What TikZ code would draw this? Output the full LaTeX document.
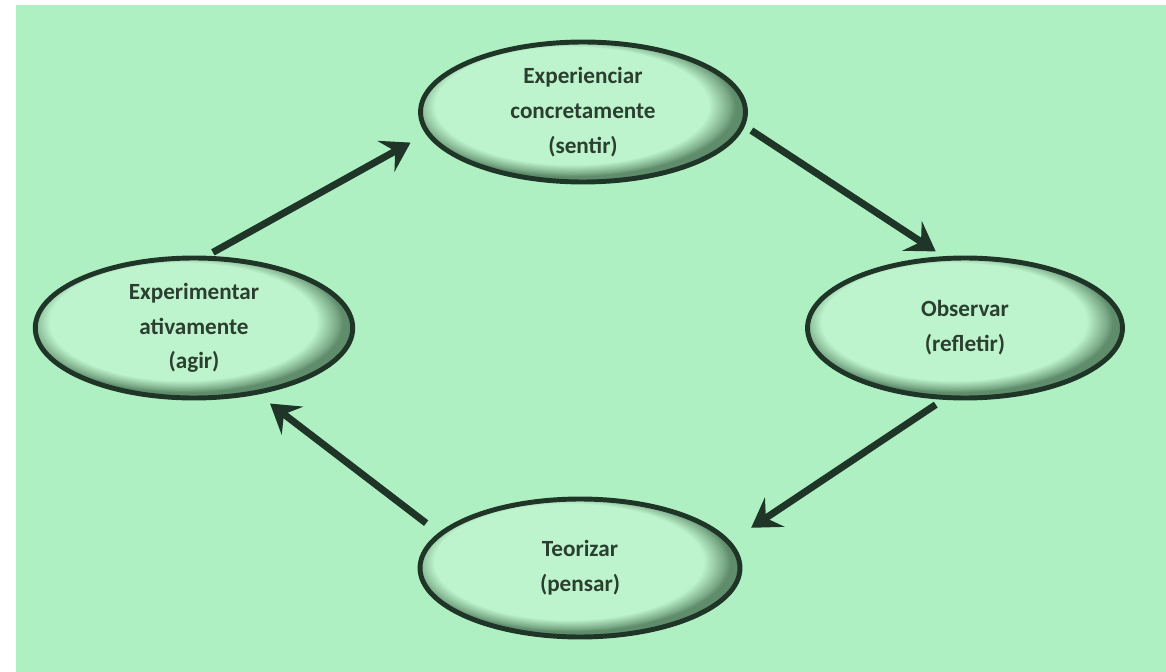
\documentclass[tikz,border=0pt]{standalone}
\usepackage{fontspec}
\setmainfont{Carlito}
\usetikzlibrary{arrows.meta, shapes.geometric}
\definecolor{clrBack}  {HTML}{AFF0C2}
\definecolor{clrLight} {HTML}{BDF4CD}
\definecolor{clrShadow}{HTML}{5F8C6B}
\definecolor{clrLine}  {HTML}{1F3527}
\definecolor{clrText}  {HTML}{2B3F2F}
\pgfdeclareradialshading{ovalshade}{\pgfpoint{-3bp}{4bp}}{%
  color(0bp)=(clrLight); color(21bp)=(clrLight);
  color(24bp)=(clrShadow!70!clrLight); color(25bp)=(clrShadow);
  color(50bp)=(clrShadow)}

\begin{document}
\begin{tikzpicture}[
  x=0.02cm, y=-0.02cm,
  oval/.style={ellipse, draw=clrLine, line width=2.8pt,
               shading=ovalshade, inner sep=0pt, align=center,
               minimum height=2.8cm, text=clrText,
               font=\bfseries\fontsize{13.2}{19.8}\selectfont},
  arr/.style={-{Stealth[length=16pt, width=20pt, inset=6pt]},
              line width=4pt, draw=clrLine},
]
\useasboundingbox (0,0) rectangle (1166,672);
\fill[white] (0,0) rectangle (1166,672);
\fill[clrBack] (16,5) rectangle (1166,672);

\node[oval, minimum width=6.5cm] (sentir) at (583,112)
  {Experienciar\\concretamente\\(sentir)};
\node[oval, minimum width=6.3cm] (refletir) at (965,328)
  {Observar\\(refletir)};
\node[oval, minimum width=6.4cm, minimum height=2.76cm] (pensar)
  at (580,568) {Teorizar\\(pensar)};
\node[oval, minimum width=6.35cm] (agir) at (194,328)
  {Experimentar\\ativamente\\(agir)};

\draw[arr, shorten <=4pt, shorten >=10pt] (agir.80) -- (sentir.188);
\draw[arr, shorten <=4.5pt, shorten >=5pt] (sentir.-5) -- (refletir.107);
\draw[arr, shorten <=5pt, shorten >=14pt] (refletir.253) -- (pensar.10);
\draw[arr, shorten <=9pt, shorten >=8.5pt] (pensar.166) -- (agir.-46);
\end{tikzpicture}
\end{document}
